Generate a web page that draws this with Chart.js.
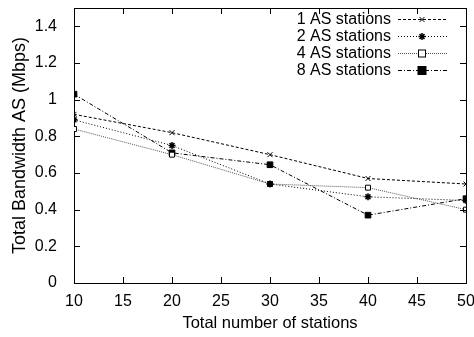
<!DOCTYPE html>
<html>
<head>
<meta charset="utf-8">
<script src="https://cdn.jsdelivr.net/npm/chart.js@4/dist/chart.umd.min.js"></script>
<style>
  html, body { margin: 0; padding: 0; background: #fff; }
  #wrap { width: 474px; height: 337px; }
</style>
</head>
<body>
<div id="wrap"><canvas id="myChart1" width="474" height="337"></canvas></div>
<script>
const stations = [10, 20, 30, 40, 50];
const as1 = [0.92, 0.82, 0.70, 0.57, 0.54];
const as2 = [0.89, 0.75, 0.54, 0.47, 0.45];
const as4 = [0.84, 0.70, 0.54, 0.52, 0.40];
const as8 = [1.03, 0.71, 0.645, 0.37, 0.46];
const yTicks = [0, 0.2, 0.4, 0.6, 0.8, 1, 1.2, 1.4];
const xTicks = [10, 15, 20, 25, 30, 35, 40, 45, 50];

const FONT = "'Liberation Sans', Arial, sans-serif";
Chart.defaults.font.family = FONT;
Chart.defaults.color = "#000";

function pts(arr) {
  return stations.map((x, i) => ({ x: x, y: arr[i] }));
}

const data = {
  datasets: [
    {
      label: "1 AS stations",
      data: pts(as1),
      borderColor: "#000", borderWidth: 1, borderDash: [3, 2],
      pointStyle: "crossRot", pointRadius: 3.5, pointBorderColor: "#000", pointBorderWidth: 1,
    },
    {
      label: "2 AS stations",
      data: pts(as2),
      borderColor: "#000", borderWidth: 1, borderDash: [1, 2],
      pointStyle: "star", pointRadius: 3.5, pointBorderColor: "#000", pointBorderWidth: 1.5,
    },
    {
      label: "4 AS stations",
      data: pts(as4),
      borderColor: "#555", borderWidth: 1, borderDash: [1, 1],
      pointStyle: "rect", pointRadius: 3.5, pointBackgroundColor: "#fff",
      pointBorderColor: "#000", pointBorderWidth: 1,
    },
    {
      label: "8 AS stations",
      data: pts(as8),
      borderColor: "#000", borderWidth: 1, borderDash: [4, 2, 1, 2],
      pointStyle: "rect", pointRadius: 4, pointBackgroundColor: "#000",
      pointBorderColor: "#000", pointBorderWidth: 1,
    },
  ],
};

// legend inside the plot (text right aligned, sample on the right),
// then inward ticks on all four sides
const decor = {
  id: "decor",
  afterDraw(chart) {
    const c = chart.ctx, a = chart.chartArea;
    const xs = chart.scales.x, ys = chart.scales.y;
    c.save();
    c.font = "16px " + FONT;
    c.textAlign = "right";
    c.textBaseline = "middle";
    chart.data.datasets.forEach((ds, i) => {
      const y = 19 + i * 17;
      c.fillStyle = "#000";
      c.fillText(ds.label, 391, y + 1);
      c.beginPath();
      c.setLineDash(ds.borderDash);
      c.strokeStyle = ds.borderColor;
      c.lineWidth = 1;
      c.moveTo(398, y + 0.5); c.lineTo(447, y + 0.5);
      c.stroke();
      c.setLineDash([]);
      c.strokeStyle = "#000";
      if (ds.pointStyle === "rect") {
        const r = ds.pointRadius;
        c.fillStyle = ds.pointBackgroundColor;
        c.fillRect(422 - r, y + 0.5 - r, 2 * r, 2 * r);
        c.strokeRect(422 - r, y + 0.5 - r, 2 * r, 2 * r);
      } else {
        c.lineWidth = ds.pointBorderWidth;
        Chart.helpers.drawPoint(c, {
          pointStyle: ds.pointStyle, radius: ds.pointRadius, rotation: 0,
          borderWidth: ds.pointBorderWidth,
        }, 422, y + 0.5);
      }
    });
    c.restore();

    c.save();
    c.setLineDash([]);
    c.strokeStyle = "#000";
    c.lineWidth = 1;
    c.beginPath();
    xTicks.forEach(v => {
      const p = Math.round(xs.getPixelForValue(v)) + 0.5;
      c.moveTo(p, a.bottom); c.lineTo(p, a.bottom - 6);
      c.moveTo(p, a.top); c.lineTo(p, a.top + 6);
    });
    yTicks.forEach(v => {
      const p = Math.round(ys.getPixelForValue(v)) + 0.5;
      c.moveTo(a.left, p); c.lineTo(a.left + 6, p);
      c.moveTo(a.right, p); c.lineTo(a.right - 6, p);
    });
    c.stroke();
    c.restore();
  },
};

const config = {
  type: "line",
  data: data,
  options: {
    responsive: false,
    animation: false,
    layout: { padding: { top: 8, right: 8, left: 0, bottom: 0 } },
    scales: {
      x: {
        type: "linear",
        min: 10, max: 50,
        afterBuildTicks: s => { s.ticks = xTicks.map(v => ({ value: v })); },
        afterFit: s => { s.height = 54; s.paddingLeft = 0; s.paddingRight = 0; },
        grid: { display: false },
        border: { display: true, color: "#000", width: 1 },
        ticks: { font: { size: 16 }, padding: 1, maxRotation: 0, autoSkip: false },
        title: { display: true, text: "Total number of stations", font: { size: 16.5 }, padding: { top: 0, bottom: 4 } },
      },
      x2: {
        type: "linear",
        position: "top",
        min: 10, max: 50,
        afterFit: s => { s.height = 0; s.paddingLeft = 0; s.paddingRight = 0; },
        grid: { display: false },
        border: { display: true, color: "#000", width: 1 },
        ticks: { display: false },
      },
      y: {
        min: 0, max: 1.5,
        afterBuildTicks: s => { s.ticks = yTicks.map(v => ({ value: v })); },
        afterFit: s => { s.width = 74; s.paddingTop = 0; s.paddingBottom = 0; },
        grid: { display: false },
        border: { display: true, color: "#000", width: 1 },
        ticks: { font: { size: 16 }, padding: 9, callback: v => String(Math.round(v * 10) / 10) },
        title: { display: true, text: "Total Bandwidth AS (Mbps)", font: { size: 18 }, padding: { top: 9, bottom: 0 } },
      },
      y2: {
        position: "right",
        min: 0, max: 1.5,
        afterFit: s => { s.width = 0; s.paddingTop = 0; s.paddingBottom = 0; },
        grid: { display: false },
        border: { display: true, color: "#000", width: 1 },
        ticks: { display: false },
      },
    },
    plugins: {
      legend: { display: false },
      tooltip: { enabled: false },
    },
  },
  plugins: [decor],
};

const myChart = new Chart(document.getElementById("myChart1").getContext("2d"), config);
</script>
</body>
</html>
